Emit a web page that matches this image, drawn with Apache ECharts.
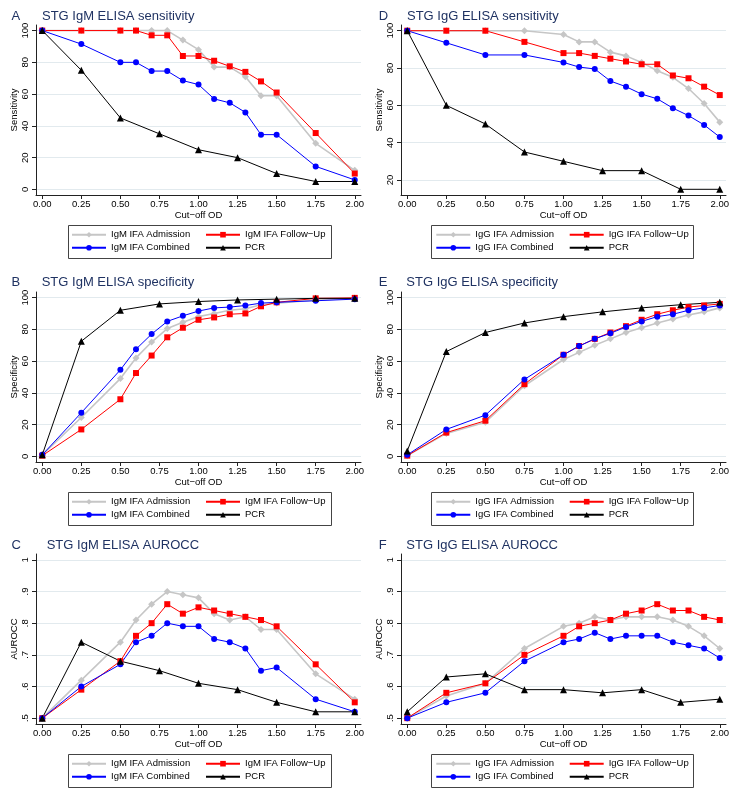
<!DOCTYPE html>
<html><head><meta charset="utf-8">
<script src="https://cdn.jsdelivr.net/npm/echarts@6/dist/echarts.min.js"></script>
<style>html,body{margin:0;padding:0;background:#fff}#c{width:734px;height:798px}</style>
</head><body><div id="c"></div>
<script>
// ---------- data ----------
const cutIgM = [0, 0.25, 0.5, 0.6, 0.7, 0.8, 0.9, 1.0, 1.1, 1.2, 1.3, 1.4, 1.5, 1.75, 2.0];
const cutIgG = [0, 0.25, 0.5, 0.75, 1.0, 1.1, 1.2, 1.3, 1.4, 1.5, 1.6, 1.7, 1.8, 1.9, 2.0];
const cutPCR = [0, 0.25, 0.5, 0.75, 1.0, 1.25, 1.5, 1.75, 2.0];
const xTicks = [0, 0.25, 0.5, 0.75, 1, 1.25, 1.5, 1.75, 2];
const pctTicks = [0, 20, 40, 60, 80, 100];
const pctTicksD = [20, 40, 60, 80, 100];
const aucTicks = [0.5, 0.6, 0.7, 0.8, 0.9, 1];

const igmNames = ['IgM IFA Admission', 'IgM IFA Follow\u2212Up', 'IgM IFA Combined', 'PCR'];
const iggNames = ['IgG IFA Admission', 'IgG IFA Follow\u2212Up', 'IgG IFA Combined', 'PCR'];

// A: IgM sensitivity
const sensIgMAdm  = [100, 100, 100, 100, 100, 100, 94, 88, 77, 77, 71, 59, 59, 29, 12];
const sensIgMFu   = [100, 100, 100, 100, 97, 97, 84, 84, 81, 77.5, 74, 68, 61, 35.5, 10];
const sensIgMComb = [100, 91.5, 80, 80, 74.5, 74.5, 68.5, 66, 57, 54.5, 48.5, 34.5, 34.5, 14.5, 6];
const sensIgMPCR  = [100, 75, 45, 35, 25, 20, 10, 5, 5];
// B: IgM specificity
const specIgMAdm  = [1, 24.5, 49, 62, 72, 80.5, 84.5, 88, 90, 92, 93, 95.5, 96.5, 98.5, 99.5];
const specIgMFu   = [0.5, 17, 36, 52.5, 63.5, 75, 81, 86, 87.5, 89.5, 90, 94.5, 97, 99.5, 99.8];
const specIgMComb = [1, 27.5, 54.5, 67.5, 77, 85, 88.5, 91.5, 93.5, 94, 95, 96.5, 97, 98, 99];
const specIgMPCR  = [1, 72.5, 92, 96, 97.5, 98.5, 99, 99.5, 99.5];
// C: IgM AUROCC
const aucIgMAdm  = [0.50, 0.62, 0.74, 0.81, 0.86, 0.90, 0.89, 0.88, 0.83, 0.81, 0.82, 0.78, 0.78, 0.64, 0.56];
const aucIgMFu   = [0.50, 0.59, 0.68, 0.76, 0.80, 0.86, 0.83, 0.85, 0.84, 0.83, 0.82, 0.81, 0.79, 0.67, 0.55];
const aucIgMComb = [0.50, 0.60, 0.67, 0.74, 0.76, 0.80, 0.79, 0.79, 0.75, 0.74, 0.72, 0.65, 0.66, 0.56, 0.52];
const aucIgMPCR  = [0.50, 0.74, 0.68, 0.65, 0.61, 0.59, 0.55, 0.52, 0.52];
// D: IgG sensitivity
const sensIgGAdm  = [100, 100, 100, 100, 98, 94, 94, 88.5, 86.5, 83, 78.5, 75, 69, 61, 51];
const sensIgGFu   = [100, 100, 100, 94, 88, 88, 86.5, 85, 83.5, 82, 82, 76, 74.5, 70, 65.5];
const sensIgGComb = [100, 93.5, 87, 87, 83, 80.5, 79.5, 73, 70, 66, 63.5, 58.5, 54.5, 49.5, 43];
const sensIgGPCR  = [100, 60, 50, 35, 30, 25, 25, 15, 15];
// E: IgG specificity
const specIgGAdm  = [0.5, 14.5, 21.5, 44.5, 61, 65.5, 70, 74, 78, 81, 84, 86.5, 89, 91, 93.5];
const specIgGFu   = [0.5, 15, 22.5, 45.5, 64, 69.5, 74, 78, 82, 86, 89.5, 92, 94, 95, 96];
const specIgGComb = [1, 17, 26, 48.5, 64, 69.5, 74, 77.5, 81.5, 85, 88, 89.5, 92, 93.5, 95];
const specIgGPCR  = [3.5, 66, 78, 84, 88, 91, 93.5, 95.5, 97];
// F: IgG AUROCC
const aucIgGAdm  = [0.50, 0.57, 0.61, 0.72, 0.79, 0.80, 0.82, 0.81, 0.82, 0.82, 0.82, 0.81, 0.79, 0.76, 0.72];
const aucIgGFu   = [0.50, 0.58, 0.61, 0.70, 0.76, 0.79, 0.80, 0.81, 0.83, 0.84, 0.86, 0.84, 0.84, 0.82, 0.81];
const aucIgGComb = [0.50, 0.55, 0.58, 0.68, 0.74, 0.75, 0.77, 0.75, 0.76, 0.76, 0.76, 0.74, 0.73, 0.72, 0.69];
const aucIgGPCR  = [0.52, 0.63, 0.64, 0.59, 0.59, 0.58, 0.59, 0.55, 0.56];

// ---------- layout / style ----------
const FONT = '"Liberation Sans", Arial, Helvetica, sans-serif';
const NAVY = '#1f3262';
const GRIDC = '#e2eaee';
const AXC = '#222';
const FS = 9.5;

const colLeft = [36, 401];
const gridW = 325;
const rowTop = [25, 292, 554];
const gridH = 170;
const titleY = [16, 282.3, 545];
const legRow = [234.7, 501.7, 763.7];

const seriesStyle = [
  {sym: 'diamond', size: 7, color: '#c6c6c6', lw: 1.6},
  {sym: 'rect', size: 6, color: '#ff0000', lw: 1},
  {sym: 'circle', size: 6, color: '#0000ff', lw: 1},
  {sym: 'triangle', size: 7, color: '#000000', lw: 1}
];

const panels = [
  {letter: 'A', title: 'STG IgM ELISA sensitivity', yName: 'Sensitivity', col: 0, row: 0, titleX: 42,
   xs: [cutIgM, cutIgM, cutIgM, cutPCR], ys: [sensIgMAdm, sensIgMFu, sensIgMComb, sensIgMPCR],
   names: igmNames, yMin: -3.5, yMax: 103.5, yTicks: pctTicks, auc: false},
  {letter: 'B', title: 'STG IgM ELISA specificity', yName: 'Specificity', col: 0, row: 1, titleX: 41.7,
   xs: [cutIgM, cutIgM, cutIgM, cutPCR], ys: [specIgMAdm, specIgMFu, specIgMComb, specIgMPCR],
   names: igmNames, yMin: -3.5, yMax: 103.5, yTicks: pctTicks, auc: false},
  {letter: 'C', title: 'STG IgM ELISA AUROCC', yName: 'AUROCC', col: 0, row: 2, titleX: 46.7,
   xs: [cutIgM, cutIgM, cutIgM, cutPCR], ys: [aucIgMAdm, aucIgMFu, aucIgMComb, aucIgMPCR],
   names: igmNames, yMin: 0.4815, yMax: 1.0185, yTicks: aucTicks, auc: true},
  {letter: 'D', title: 'STG IgG ELISA sensitivity', yName: 'Sensitivity', col: 1, row: 0, titleX: 407,
   xs: [cutIgG, cutIgG, cutIgG, cutPCR], ys: [sensIgGAdm, sensIgGFu, sensIgGComb, sensIgGPCR],
   names: iggNames, yMin: 11.95, yMax: 103.05, yTicks: pctTicksD, auc: false},
  {letter: 'E', title: 'STG IgG ELISA specificity', yName: 'Specificity', col: 1, row: 1, titleX: 406.3,
   xs: [cutIgG, cutIgG, cutIgG, cutPCR], ys: [specIgGAdm, specIgGFu, specIgGComb, specIgGPCR],
   names: iggNames, yMin: -3.5, yMax: 103.5, yTicks: pctTicks, auc: false},
  {letter: 'F', title: 'STG IgG ELISA AUROCC', yName: 'AUROCC', col: 1, row: 2, titleX: 406.3,
   xs: [cutIgG, cutIgG, cutIgG, cutPCR], ys: [aucIgGAdm, aucIgGFu, aucIgGComb, aucIgGPCR],
   names: iggNames, yMin: 0.4815, yMax: 1.0185, yTicks: aucTicks, auc: true}
];

const grids = [], xAxes = [], yAxes = [], series = [], legends = [], graphics = [];
const legColX = [[71, 205], [435.3, 568.7]];
const legBox = [[68, 263], [431, 262]];

panels.forEach((p, i) => {
  const L = colLeft[p.col], T = rowTop[p.row];
  grids.push({left: L, top: T, width: gridW, height: gridH, containLabel: false});
  xAxes.push({
    type: 'value', gridIndex: i, min: -0.04, max: 2.04,
    name: 'Cut\u2212off OD', nameLocation: 'middle', nameGap: 14,
    nameTextStyle: {fontSize: FS, fontFamily: FONT, color: '#000'},
    axisLine: {show: true, onZero: false, lineStyle: {color: AXC, width: 1}},
    axisTick: {show: true, length: 4, customValues: xTicks, lineStyle: {color: AXC}},
    axisLabel: {show: true, customValues: xTicks, margin: 4, fontSize: FS, fontFamily: FONT, color: '#000',
      formatter: v => Number(v).toFixed(2)},
    splitLine: {show: false}
  });
  yAxes.push({
    type: 'value', gridIndex: i, min: p.yMin, max: p.yMax,
    name: p.yName, nameLocation: 'middle', nameGap: 16,
    nameTextStyle: {fontSize: FS, fontFamily: FONT, color: '#000'},
    axisLine: {show: true, onZero: false, lineStyle: {color: AXC, width: 1}},
    axisTick: {show: true, length: 4, customValues: p.yTicks, lineStyle: {color: AXC}},
    axisLabel: {show: true, customValues: p.yTicks, rotate: 90, margin: 6, fontSize: FS, fontFamily: FONT, color: '#000',
      formatter: v => p.auc ? (v >= 0.999 ? '1' : Number(v).toFixed(1).replace(/^0/, '')) : String(Math.round(v))},
    splitLine: {show: true, lineStyle: {color: GRIDC, width: 1}}
  });
  p.ys.forEach((vals, k) => {
    const st = seriesStyle[k];
    series.push({
      type: 'line', name: p.names[k], xAxisIndex: i, yAxisIndex: i,
      data: vals.map((v, j) => [p.xs[k][j], v]),
      symbol: st.sym, symbolSize: st.size, showSymbol: true, showAllSymbol: true,
      lineStyle: {color: st.color, width: st.lw},
      itemStyle: {color: st.color, borderWidth: 0},
      emphasis: {disabled: true}, animation: false, clip: false
    });
  });
  // title
  graphics.push({type: 'text', x: colLeft[p.col] === 36 ? 11.5 : 378.7, y: titleY[p.row],
    style: {text: p.letter, font: '13px ' + FONT, fill: NAVY, verticalAlign: 'middle', align: 'left'}});
  graphics.push({type: 'text', x: p.titleX, y: titleY[p.row],
    style: {text: p.title, font: '13px ' + FONT, fill: NAVY, verticalAlign: 'middle', align: 'left'}});
  // legend box
  const rc = legRow[p.row];
  const bx = legBox[p.col];
  graphics.push({type: 'rect', z: 1,
    shape: {x: bx[0] + 0.5, y: Math.round(rc - 10) + 0.5, width: bx[1], height: 33},
    style: {fill: '#fff', stroke: '#444', lineWidth: 1}});
  [[p.names[0], p.names[2]], [p.names[1], p.names[3]]].forEach((pair, c) => {
    legends.push({
      orient: 'vertical', left: legColX[p.col][c], top: rc - 6.5, padding: 0, itemGap: 0,
      itemWidth: 34, itemHeight: 7, selectedMode: false, z: 10,
      data: pair,
      textStyle: {fontSize: FS, fontFamily: FONT, color: '#000', lineHeight: 13}
    });
  });
});

const chart = echarts.init(document.getElementById('c'), null, {renderer: 'canvas'});
chart.setOption({
  animation: false,
  backgroundColor: '#fff',
  grid: grids, xAxis: xAxes, yAxis: yAxes, series: series, legend: legends,
  graphic: {elements: graphics}
});
</script>
</body></html>
